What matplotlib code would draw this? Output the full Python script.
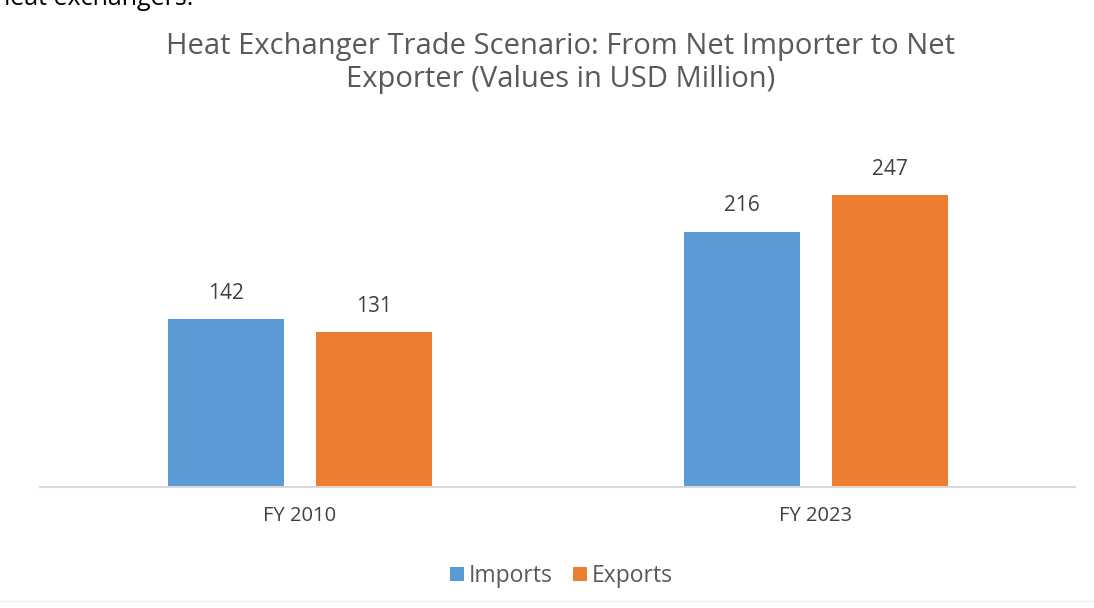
import numpy as np
import matplotlib.pyplot as plt

# data
categories = ['FY 2010', 'FY 2023']
imports = [142, 216]
exports = [131, 247]
series_names = ['Imports', 'Exports']

blue = '#5B9BD5'
orange = '#ED7D31'
text_gray = '#595959'

plt.rcParams['font.family'] = ['Open Sans', 'DejaVu Sans']

fig = plt.figure(figsize=(10.94, 6.08), dpi=100)
ax = fig.add_axes([40 / 1094, 121 / 608, 1035 / 1094, 350 / 608])

x = np.arange(len(categories))
w = 0.225
off = 0.143
b1 = ax.bar(x - off, imports, w, color=blue, label=series_names[0])
b2 = ax.bar(x + off, exports, w, color=orange, label=series_names[1])

for bars in (b1, b2):
    for r in bars:
        ax.annotate(f'{r.get_height():.0f}', (r.get_x() + r.get_width() / 2, r.get_height()),
                    xytext=(0, 11), textcoords='offset points', ha='center', va='bottom',
                    fontsize=15, color='#404040')

ax.set_xlim(-0.504, 1.502)
ax.set_ylim(0, 296)
ax.set_xticks(x)
ax.set_xticklabels(categories, fontsize=14.5, color='#404040')
ax.tick_params(axis='x', length=0, pad=14)
ax.set_yticks([])
for s in ['top', 'right', 'left']:
    ax.spines[s].set_visible(False)
ax.spines['bottom'].set_color('#D9D9D9')
ax.spines['bottom'].set_linewidth(1.5)

fig.text(0.512, 1 - 63 / 608,
         'Heat Exchanger Trade Scenario: From Net Importer to Net\nExporter (Values in USD Million)',
         ha='center', va='center', fontsize=21, color=text_gray, linespacing=1.15)

# cut-off text from the page above the chart
fig.text(-0.005, 1 - 5 / 608, 'heat exchangers.', ha='left', va='baseline',
         fontsize=18, color='black')

fig.legend(loc='center', bbox_to_anchor=(0.513, 1 - 576 / 608), ncol=2, frameon=False,
           fontsize=16.5, handlelength=0.6, handleheight=0.6, handletextpad=0.2,
           columnspacing=0.9, labelcolor=text_gray)

fig.add_artist(plt.Line2D([0, 1], [1 - 601 / 608] * 2, color='#EDEDED', lw=1))

fig.savefig('out.png', dpi=100)
